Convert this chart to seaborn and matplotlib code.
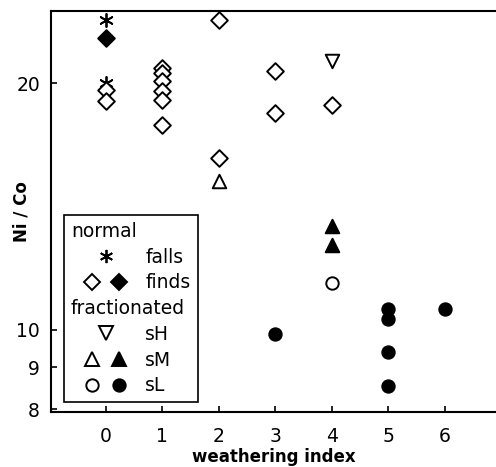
import matplotlib
matplotlib.use("Agg")
import matplotlib.pyplot as plt
from matplotlib.lines import Line2D
from matplotlib.legend_handler import HandlerTuple
import seaborn as sns
import pandas as pd

# ---- data ----
falls_x = [0, 0]
falls_y = [23.9, 20.0]

finds_open_x = [0, 0, 1, 1, 1, 1, 1, 1, 2, 2, 3, 3, 4]
finds_open_y = [19.65, 19.05, 20.9, 20.6, 20.1, 19.55, 19.1, 17.8, 23.9, 16.2, 20.7, 18.4, 18.8]
finds_fill_x = [0]
finds_fill_y = [22.7]

sH_open_x = [4]
sH_open_y = [21.3]

sM_open_x = [2]
sM_open_y = [15.2]
sM_fill_x = [4, 4]
sM_fill_y = [13.4, 12.7]

sL_open_x = [4]
sL_open_y = [11.4]
sL_fill_x = [3, 5, 5, 5, 5, 6]
sL_fill_y = [9.89, 10.6, 10.3, 9.41, 8.55, 10.6]

x_ticks = [0, 1, 2, 3, 4, 5, 6]
y_ticks = [8, 9, 10, 20]
y_ticklabels = ["8", "9", "10", "20"]

sns.set_style("ticks")
plt.rcParams["font.family"] = ["DejaVu Sans"]
plt.rcParams["text.color"] = "black"
plt.rcParams["axes.labelcolor"] = "black"

fig = plt.figure(figsize=(4.96, 4.67), dpi=100)
ax = fig.add_axes([51 / 496, 55 / 467, 445 / 496, 401 / 467])

ASTER = (6, 2, 0)
LW = 1.4
D_S = 72
groups = [
    (falls_x, falls_y, ASTER, "black", None, 90),
    (finds_open_x, finds_open_y, "D", "white", "black", D_S),
    (finds_fill_x, finds_fill_y, "D", "black", "black", D_S),
    (sH_open_x, sH_open_y, "v", "white", "black", 95),
    (sM_open_x, sM_open_y, "^", "white", "black", 95),
    (sM_fill_x, sM_fill_y, "^", "black", "black", 95),
    (sL_open_x, sL_open_y, "o", "white", "black", 80),
    (sL_fill_x, sL_fill_y, "o", "black", "black", 80),
]
for gx, gy, mk, fc, ec, s in groups:
    df = pd.DataFrame({"index": gx, "ratio": gy})
    kw = dict(marker=mk, s=s, color=fc, linewidth=LW, zorder=3)
    if ec is not None:
        kw["edgecolor"] = ec
    else:
        kw["linewidth"] = 1.3
    sns.scatterplot(data=df, x="index", y="ratio", ax=ax, legend=False, **kw)

ax.set_yscale("log")
ax.set_ylim(7.94, 24.5)
ax.set_xlim(-0.963, 6.9)
ax.set_yticks(y_ticks)
ax.set_yticklabels(y_ticklabels)
ax.yaxis.set_minor_locator(matplotlib.ticker.NullLocator())
ax.set_xticks(x_ticks)

for side in ["left", "bottom", "top"]:
    ax.spines[side].set_linewidth(1.5)
    ax.spines[side].set_color("black")
ax.spines["right"].set_visible(False)

ax.tick_params(axis="both", direction="in", length=4.5, width=1.2,
               labelsize=13.5, colors="black")
ax.tick_params(axis="x", pad=11)
ax.tick_params(axis="y", pad=8)
ax.tick_params(top=False, right=False)

ax.set_xlabel("weathering index", fontsize=12, fontweight="bold")
ax.set_ylabel("Ni / Co", fontsize=12, fontweight="bold")
ax.xaxis.set_label_coords(0.5, -0.0898)
ax.yaxis.set_label_coords(-0.045, 0.5)

# ---- legend ----
def mk(m, fc, ms):
    return Line2D([], [], marker=m, ls="none", ms=ms, mfc=fc, mec="black",
                  mew=LW, color="black")

blank = Line2D([], [], ls="none")
h_falls = Line2D([], [], marker=ASTER, ls="none", ms=9.5, color="black", mew=1.3)
handles = [
    blank,
    h_falls,
    (mk("D", "white", 8.5), mk("D", "black", 8.5)),
    blank,
    mk("v", "white", 9.7),
    (mk("^", "white", 9.7), mk("^", "black", 9.7)),
    (mk("o", "white", 8.9), mk("o", "black", 8.9)),
]
labels = ["normal", "falls", "finds", "fractionated", "sH", "sM", "sL"]
headers = {"normal", "fractionated"}

leg = ax.legend(handles, labels, loc="upper left",
                bbox_to_anchor=((64 - 51) / 445, (412 - 215) / 401),
                borderaxespad=0, fontsize=13.5, frameon=True, fancybox=False,
                framealpha=1, edgecolor="black", borderpad=0.37,
                handlelength=3.73, handletextpad=0.24, labelspacing=0.36,
                handler_map={tuple: HandlerTuple(ndivide=None, pad=-0.85)})
leg.get_frame().set_linewidth(1.2)
for t in leg.get_texts():
    t.set_color("black")

for col in leg._legend_handle_box.get_children():
    for row in col.get_children():
        hbox, tbox = row.get_children()
        txt = tbox.get_children()[0]
        if txt.get_text() in headers:
            hbox.width = 0
            row.sep = 0

fig.savefig("out.png", dpi=100)
